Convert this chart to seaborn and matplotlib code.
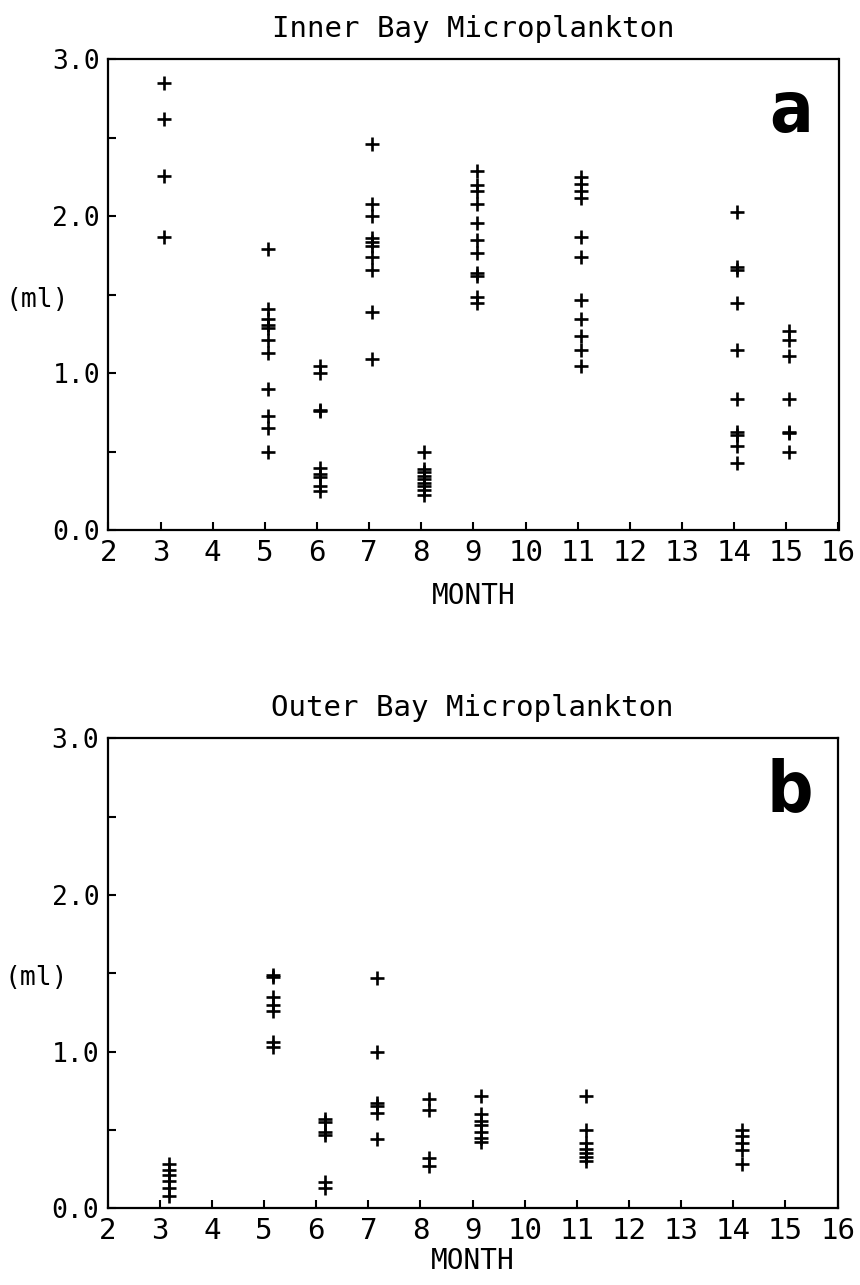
import matplotlib
matplotlib.use("Agg")
import matplotlib.pyplot as plt
from matplotlib import font_manager
from matplotlib.ticker import MultipleLocator, FormatStrFormatter
import seaborn as sns
import pandas as pd

# sampling months
inner_months = [3, 5, 6, 7, 8, 9, 11, 14, 15]
outer_months = [3, 5, 6, 7, 8, 9, 11, 14]

# Inner Bay microplankton volumes (ml)
inner_m3 = [2.85, 2.62, 2.26, 1.87]
inner_m5 = [1.79, 1.41, 1.35, 1.31, 1.29, 1.21, 1.13, 0.90, 0.73, 0.65, 0.50]
inner_m6 = [1.05, 1.00, 0.77, 0.76, 0.40, 0.36, 0.34, 0.28, 0.25]
inner_m7 = [2.46, 2.08, 2.00, 1.86, 1.84, 1.81, 1.74, 1.66, 1.39, 1.09]
inner_m8 = [0.50, 0.39, 0.375, 0.35, 0.33, 0.305, 0.28, 0.255, 0.225]
inner_m9 = [2.29, 2.20, 2.16, 2.08, 1.96, 1.85, 1.77, 1.64, 1.62, 1.49, 1.45]
inner_m11 = [2.25, 2.21, 2.16, 2.12, 1.87, 1.74, 1.47, 1.35, 1.24, 1.15, 1.05]
inner_m14 = [2.03, 1.68, 1.66, 1.45, 1.15, 0.84, 0.63, 0.61, 0.54, 0.43]
inner_m15 = [1.27, 1.21, 1.11, 0.84, 0.63, 0.62, 0.50]

# Outer Bay microplankton volumes (ml)
outer_m3 = [0.28, 0.245, 0.21, 0.175, 0.13, 0.08]
outer_m5 = [1.49, 1.475, 1.35, 1.30, 1.26, 1.06, 1.03]
outer_m6 = [0.57, 0.55, 0.49, 0.47, 0.165, 0.13]
outer_m7 = [1.47, 1.00, 0.67, 0.65, 0.61, 0.44]
outer_m8 = [0.70, 0.63, 0.32, 0.27]
outer_m9 = [0.72, 0.60, 0.56, 0.53, 0.49, 0.45, 0.425]
outer_m11 = [0.72, 0.50, 0.415, 0.38, 0.35, 0.325, 0.30]
outer_m14 = [0.50, 0.46, 0.42, 0.37, 0.28]

inner_vals = [inner_m3, inner_m5, inner_m6, inner_m7, inner_m8,
              inner_m9, inner_m11, inner_m14, inner_m15]
outer_vals = [outer_m3, outer_m5, outer_m6, outer_m7, outer_m8,
              outer_m9, outer_m11, outer_m14]


def to_frame(months, vals, shift):
    rows = [(m + shift, v) for m, vs in zip(months, vals) for v in vs]
    return pd.DataFrame(rows, columns=["month", "ml"])


sns.set_theme(style="ticks")
plt.rcParams["font.family"] = ["DejaVu Sans Mono", "DejaVu Sans"]
plt.rcParams.update({"text.color": "black", "axes.labelcolor": "black",
                     "xtick.color": "black", "ytick.color": "black"})

names = {f.name for f in font_manager.fontManager.ttflist}
if "Liberation Sans Narrow" in names:
    letter_font = dict(family="Liberation Sans Narrow")
else:
    letter_font = dict(family="DejaVu Sans", stretch="condensed")

fig = plt.figure(figsize=(8.6, 12.85), dpi=100)
ax_a = fig.add_axes([0.126, 0.5872, 0.849, 0.3665])
ax_b = fig.add_axes([0.125, 0.0597, 0.849, 0.3656])

panels = [
    (ax_a, to_frame(inner_months, inner_vals, 0.06), "Inner Bay Microplankton", "a", 11),
    (ax_b, to_frame(outer_months, outer_vals, 0.17), "Outer Bay Microplankton", "b", 2),
]

for ax, df, title, letter, lpad in panels:
    sns.scatterplot(data=df, x="month", y="ml", marker="+", color="black",
                    s=95, linewidth=1.9, ax=ax, legend=False)
    ax.set_xlim(2, 16)
    ax.set_ylim(0, 3)
    ax.xaxis.set_major_locator(MultipleLocator(1))
    ax.yaxis.set_major_locator(MultipleLocator(1))
    ax.yaxis.set_minor_locator(MultipleLocator(0.5))
    ax.yaxis.set_major_formatter(FormatStrFormatter("%.1f"))
    ax.tick_params(axis="both", which="both", direction="in", length=6,
                   width=1.5, color="black", labelcolor="black",
                   top=False, right=False)
    ax.tick_params(axis="x", labelsize=21, pad=6)
    ax.tick_params(axis="y", labelsize=19, pad=6)
    for sp in ax.spines.values():
        sp.set_visible(True)
        sp.set_linewidth(1.6)
        sp.set_color("black")
    ax.set_title(title, fontsize=21, pad=16, color="black")
    ax.set_xlabel("MONTH", fontsize=20, labelpad=lpad, color="black")
    ax.set_ylabel("(ml)", fontsize=19, rotation=0, color="black",
                  ha="center", va="center")
    ax.yaxis.set_label_coords(-0.098, 0.49)
    ax.text(0.935, 0.845, letter, transform=ax.transAxes, ha="center",
            va="baseline", fontsize=52, fontweight="bold", color="black",
            **letter_font)

fig.savefig("out.png", dpi=100, facecolor="white")
